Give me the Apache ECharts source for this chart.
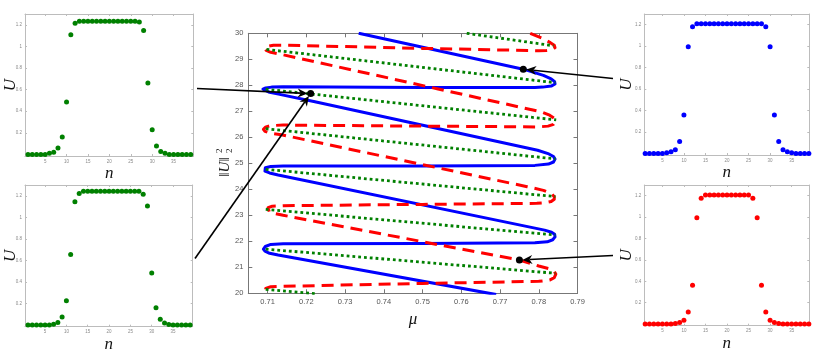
<!DOCTYPE html>
<html>
<head>
<meta charset="utf-8">
<title>snaking</title>
<script src="https://cdn.jsdelivr.net/npm/echarts@6/dist/echarts.min.js"></script>
<style>
    *{margin:0;padding:0}
    html,body{width:100%;height:100%;overflow:hidden;background:#fff}
    #main{width:830px;height:355px}
</style>
</head>
<body>
<div id="main"></div>
<script>
// bifurcation diagram: mu vs ||U||_2^2
const muTicks = [0.71, 0.72, 0.73, 0.74, 0.75, 0.76, 0.77, 0.78, 0.79];

const blueBranch = [
    [0.7335, 30.00], [0.7760, 28.62], [0.7812, 28.38], [0.7832, 28.25], [0.7841, 28.14],
    [0.7842, 28.05], [0.7832, 27.97], [0.7810, 27.93], [0.7790, 27.92], [0.7500, 27.92], [0.7140, 27.94],
    [0.7110, 27.93], [0.7095, 27.90], [0.7088, 27.85], [0.7092, 27.79], [0.7105, 27.73], [0.7128, 27.66], [0.7222, 27.37],
    [0.7797, 25.50], [0.7826, 25.36], [0.7838, 25.26], [0.7842, 25.16], [0.7838, 25.05], [0.7825, 24.97],
    [0.7790, 24.92], [0.7500, 24.90], [0.7140, 24.90], [0.7108, 24.88], [0.7094, 24.83], [0.7089, 24.77],
    [0.7093, 24.70], [0.7105, 24.63], [0.7127, 24.55], [0.7815, 22.43], [0.7833, 22.35],
    [0.7841, 22.27], [0.7842, 22.17], [0.7836, 22.06], [0.7822, 21.98], [0.7790, 21.94], [0.7500, 21.92], [0.7140, 21.91],
    [0.7108, 21.88], [0.7094, 21.80], [0.7089, 21.70], [0.7093, 21.62], [0.7105, 21.54], [0.7127, 21.47], [0.7690, 19.95]
];

const redBranch = [
    [0.7778, 30.00], [0.7810, 29.80], [0.7830, 29.64], [0.7840, 29.54], [0.7842, 29.45], [0.7836, 29.38],
    [0.7820, 29.34], [0.7800, 29.33], [0.7500, 29.42], [0.7150, 29.54], [0.7115, 29.54], [0.7098, 29.49],
    [0.7092, 29.42], [0.7096, 29.34], [0.7108, 29.27], [0.7135, 29.19], [0.7540, 27.86],
    [0.7806, 26.98], [0.7828, 26.85], [0.7840, 26.73], [0.7843, 26.62],
    [0.7838, 26.50], [0.7824, 26.43], [0.7800, 26.40], [0.7500, 26.43], [0.7140, 26.47], [0.7108, 26.45],
    [0.7094, 26.39], [0.7089, 26.31], [0.7093, 26.23], [0.7106, 26.16], [0.7135, 26.10],
    [0.7770, 24.10], [0.7812, 23.96], [0.7832, 23.84], [0.7840, 23.72], [0.7840, 23.62],
    [0.7832, 23.53], [0.7816, 23.48], [0.7795, 23.46], [0.7500, 23.42], [0.7140, 23.37], [0.7112, 23.35],
    [0.7101, 23.29], [0.7099, 23.22], [0.7104, 23.14], [0.7118, 23.07], [0.7140, 23.00],
    [0.7750, 21.28], [0.7800, 21.05], [0.7826, 20.95], [0.7840, 20.84], [0.7844, 20.74],
    [0.7840, 20.60], [0.7828, 20.51], [0.7800, 20.46], [0.7500, 20.38], [0.7140, 20.27], [0.7108, 20.25],
    [0.7095, 20.19], [0.7092, 20.12], [0.7096, 20.05], [0.7104, 19.98]
];

// dotted rungs between the two snakes
const greenRungs = [
    [[0.7614, 30.00], [0.7838, 29.52]],
    [[0.7097, 29.38], [0.7843, 28.10]],
    [[0.7095, 27.85], [0.7845, 26.67]],
    [[0.7095, 26.33], [0.7843, 25.17]],
    [[0.7095, 24.77], [0.7843, 23.72]],
    [[0.7095, 23.23], [0.7843, 22.24]],
    [[0.7095, 21.70], [0.7843, 20.77]],
    [[0.7095, 20.15], [0.7225, 19.98]]
];

const markedPoints = [[0.7211, 27.68], [0.7760, 28.62], [0.7750, 21.28]];

// profiles U_n
const sites = [1,2,3,4,5,6,7,8,9,10,11,12,13,14,15,16,17,18,19,20,21,22,23,24,25,26,27,28,29,30,31,32,33,34,35,36,37,38,39];
const nTicks = [5, 10, 15, 20, 25, 30, 35];
const uTicks = [0.2, 0.4, 0.6, 0.8, 1, 1.2];

const profileTopLeft = [0,0,0,0,0,0.01,0.02,0.058,0.16,0.484,1.107,1.215,
    1.234,1.234,1.234,1.234,1.234,1.234,1.234,1.234,1.234,1.234,1.234,1.234,1.234,1.234,
    1.225,1.147,0.66,0.228,0.077,0.027,0.01,0,0,0,0,0,0];
const profileBottomLeft = [0,0,0,0,0,0,0.008,0.025,0.075,0.225,0.655,1.145,1.22,
    1.243,1.243,1.243,1.243,1.243,1.243,1.243,1.243,1.243,1.243,1.243,1.243,1.243,1.243,
    1.215,1.105,0.483,0.162,0.054,0.02,0.005,0,0,0,0,0];
const profileTopRight = [0,0,0,0,0,0.005,0.015,0.034,0.111,0.359,0.994,1.18,
    1.21,1.21,1.21,1.21,1.21,1.21,1.21,1.21,1.21,1.21,1.21,1.21,1.21,1.21,1.21,1.21,
    1.18,0.994,0.359,0.111,0.034,0.015,0.005,0,0,0,0];
const profileBottomRight = [0,0,0,0,0,0,0,0.005,0.015,0.037,0.114,0.362,0.995,1.175,
    1.206,1.206,1.206,1.206,1.206,1.206,1.206,1.206,1.206,1.206,1.206,
    1.175,0.995,0.362,0.114,0.037,0.015,0.005,0,0,0,0,0,0,0];

let myChart = echarts.init(document.getElementById('main'));

const serif = 'Liberation Serif';
const sans = 'Liberation Sans';

function boxAxes(grid, xr, yr, xt, yt, st) {
    const line = {show: true, onZero: false, lineStyle: {color: st.line, width: 1}};
    const tick = v => ({show: true, inside: true, length: st.tick, customValues: v, lineStyle: {color: st.line}});
    const lab = (v, fmt) => ({show: true, customValues: v, color: st.text, fontSize: st.font,
        fontFamily: sans, margin: st.margin, formatter: fmt});
    const nameStyle = {fontFamily: serif, fontStyle: 'italic', fontSize: st.nameSize, color: '#111'};
    const x = [
        {gridIndex: grid, type: 'value', position: 'bottom', min: xr[0], max: xr[1],
            axisLine: line, axisTick: tick(xt), axisLabel: lab(xt, st.xfmt), splitLine: {show: false},
            name: st.xName, nameLocation: 'middle', nameGap: st.xGap, nameTextStyle: nameStyle},
        {gridIndex: grid, type: 'value', position: 'top', min: xr[0], max: xr[1],
            axisLine: line, axisTick: tick(xt), axisLabel: {show: false}, splitLine: {show: false}}
    ];
    const y = [
        {gridIndex: grid, type: 'value', position: 'left', min: yr[0], max: yr[1],
            axisLine: line, axisTick: tick(yt), axisLabel: lab(yt, st.yfmt), splitLine: {show: false},
            name: st.yName, nameLocation: 'middle', nameRotate: 90, nameGap: st.yGap,
            nameMoveOverlap: false, nameTextStyle: nameStyle},
        {gridIndex: grid, type: 'value', position: 'right', min: yr[0], max: yr[1],
            axisLine: line, axisTick: tick(yt), axisLabel: {show: false}, splitLine: {show: false}}
    ];
    return {x, y};
}

const grids = [
    {left: 248.3, top: 33.3, width: 329.2, height: 260},
    {left: 25, top: 14, width: 168.3, height: 142},
    {left: 25, top: 185, width: 167.7, height: 141.7},
    {left: 644.3, top: 14, width: 165, height: 141},
    {left: 644.3, top: 185, width: 165, height: 140.7}
].map(g => Object.assign({outerBoundsMode: 'none', containLabel: false}, g));

const mainStyle = {line: '#777', tick: 4, text: '#555', font: 7.5, margin: 5,
    xfmt: v => v.toFixed(2), yfmt: v => String(v), xName: 'μ', xGap: 8, nameSize: 17, yName: '', yGap: 0};
const mainAxes = boxAxes(0, [0.705, 0.79], [20, 30], muTicks,
    [20, 21, 22, 23, 24, 25, 26, 27, 28, 29, 30], mainStyle);

const insetStyle = (xGap, yGap) => ({line: '#bcbcbc', tick: 2, text: '#8a8a8a', font: 4.5, margin: 3,
    xfmt: v => String(v), yfmt: v => String(v), xName: 'n', xGap, nameSize: 17, yName: 'U', yGap});
const insetRanges = [
    [[0.3, 39.6], 5, 6],
    [[0.3, 39.6], 4, 6],
    [[0.8, 39.1], 5, 9],
    [[0.8, 39.1], 5, 9]
];
let xAxes = mainAxes.x.slice(), yAxes = mainAxes.y.slice();
insetRanges.forEach((r, i) => {
    const a = boxAxes(i + 1, r[0], [-0.015, 1.3], nTicks, uTicks, insetStyle(r[1], r[2]));
    xAxes = xAxes.concat(a.x);
    yAxes = yAxes.concat(a.y);
});

let series = [];
series.push({type: 'line', xAxisIndex: 0, yAxisIndex: 0, data: blueBranch,
    showSymbol: false, z: 2, lineStyle: {color: '#0000ff', width: 3, join: 'round'}});
series.push({type: 'line', xAxisIndex: 0, yAxisIndex: 0, data: redBranch,
    showSymbol: false, z: 3, lineStyle: {color: '#ff0000', width: 3, type: [12, 7], join: 'round'}});
greenRungs.forEach(r => {
    series.push({type: 'line', xAxisIndex: 0, yAxisIndex: 0, data: r, showSymbol: false, z: 4,
        lineStyle: {color: '#008000', width: 2.8, type: [2.8, 3]}});
});
series.push({type: 'scatter', xAxisIndex: 0, yAxisIndex: 0, data: markedPoints, symbolSize: 7, z: 6,
    itemStyle: {color: '#000', opacity: 1}});

const profiles = [
    [profileTopLeft, '#008000'],
    [profileBottomLeft, '#008000'],
    [profileTopRight, '#0000ff'],
    [profileBottomRight, '#ff0000']
];
profiles.forEach((p, i) => {
    series.push({type: 'scatter', xAxisIndex: 2 * (i + 1), yAxisIndex: 2 * (i + 1),
        data: sites.map((n, k) => [n, p[0][k]]), symbolSize: 5, itemStyle: {color: p[1], opacity: 1}});
});

let option = {
    animation: false,
    backgroundColor: '#fff',
    grid: grids,
    xAxis: xAxes,
    yAxis: yAxes,
    series
};
myChart.setOption(option);

// arrows from the profiles to their points on the diagram
function arrow(from, to) {
    const dx = to[0] - from[0], dy = to[1] - from[1], L = Math.hypot(dx, dy);
    const ux = dx / L, uy = dy / L;
    const tip = [to[0] - ux * 3, to[1] - uy * 3];
    const b = [tip[0] - ux * 10, tip[1] - uy * 10];
    const nn = [tip[0] - ux * 7, tip[1] - uy * 7];
    const p1 = [b[0] - uy * 4.5, b[1] + ux * 4.5], p2 = [b[0] + uy * 4.5, b[1] - ux * 4.5];
    return [
        {type: 'polyline', z: 100, shape: {points: [from, nn]}, style: {stroke: '#000', lineWidth: 1.6}},
        {type: 'polygon', z: 100, shape: {points: [tip, p1, nn, p2]}, style: {fill: '#000'}}
    ];
}
const px = p => myChart.convertToPixel({xAxisIndex: 0, yAxisIndex: 0}, p);
const m1 = px(markedPoints[0]), m2 = px(markedPoints[1]), m3 = px(markedPoints[2]);
let graphics = []
    .concat(arrow([197, 88.5], m1))
    .concat(arrow([195, 258.5], m1))
    .concat(arrow([613, 78.5], m2))
    .concat(arrow([613, 255.5], m3));

// y label ||U||_2^2 (rotated, stacked indices)
graphics.push({
    type: 'group', x: 225, y: 163, rotation: Math.PI / 2, z: 100,
    children: [
        {type: 'text', style: {text: '‖U‖', x: -4, y: 0, align: 'center', verticalAlign: 'middle',
            font: 'italic 15px "Liberation Serif"', fill: '#222'}},
        {type: 'text', style: {text: '2', x: 10, y: -5, align: 'left', verticalAlign: 'middle',
            font: '9px "Liberation Serif"', fill: '#222'}},
        {type: 'text', style: {text: '2', x: 10, y: 5, align: 'left', verticalAlign: 'middle',
            font: '9px "Liberation Serif"', fill: '#222'}}
    ]
});
myChart.setOption({graphic: graphics});
</script>
</body>
</html>
